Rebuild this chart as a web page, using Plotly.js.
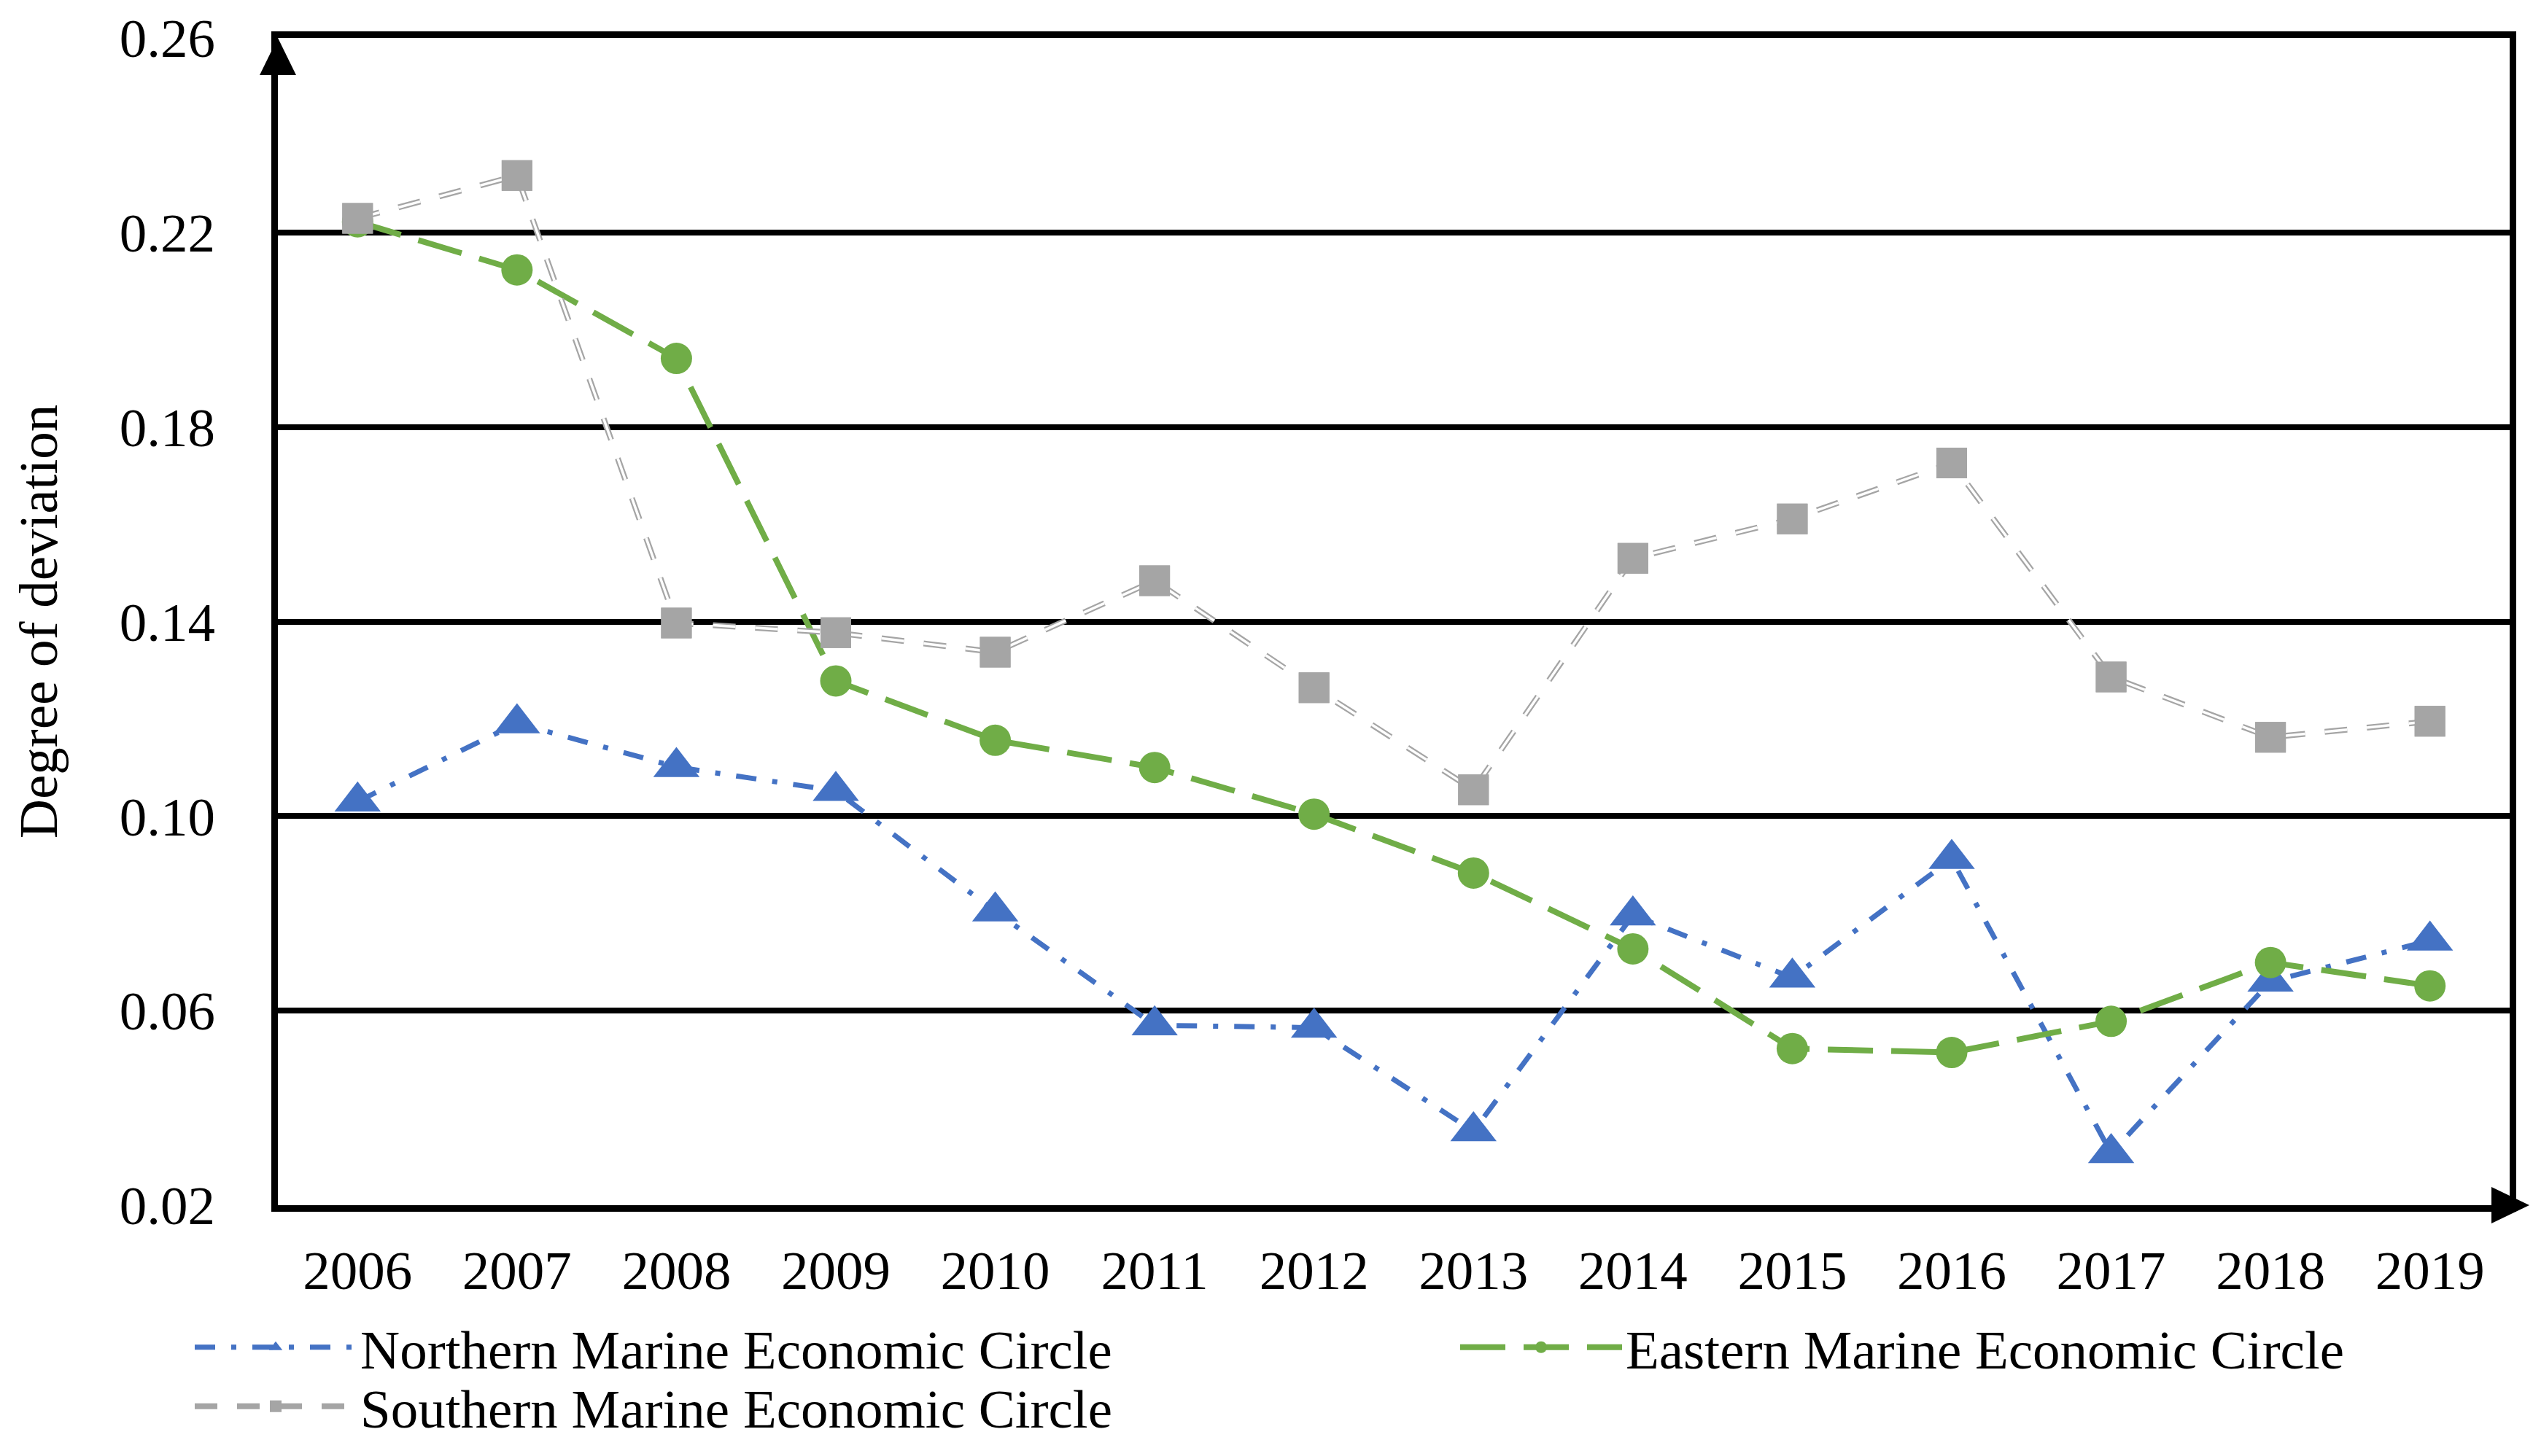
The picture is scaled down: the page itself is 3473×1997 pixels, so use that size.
<!DOCTYPE html>
<html>
<head>
<meta charset="utf-8">
<script src="https://cdn.plot.ly/plotly-3.0.1.min.js"></script>
<style>html,body{margin:0;padding:0;background:#fff;}#chart{width:3473px;height:1997px;}</style>
</head>
<body>
<div id="chart"></div>
<script>
// ---- data ----
const years = ['2006','2007','2008','2009','2010','2011','2012','2013','2014','2015','2016','2017','2018','2019'];
const northern = [0.1030, 0.1191, 0.1101, 0.1052, 0.0804, 0.0570, 0.0565, 0.0352, 0.0796, 0.0668, 0.0912, 0.0307, 0.0660, 0.0744];
const eastern  = [0.2222, 0.2123, 0.1941, 0.1278, 0.1156, 0.1100, 0.1004, 0.0883, 0.0727, 0.0522, 0.0514, 0.0578, 0.0699, 0.0651];
const southern = [0.2229, 0.2317, 0.1397, 0.1377, 0.1337, 0.1484, 0.1264, 0.1054, 0.1530, 0.1611, 0.1726, 0.1286, 0.1162, 0.1195];
const seriesNames = ['Northern Marine Economic Circle', 'Eastern Marine Economic Circle', 'Southern Marine Economic Circle'];
const yTicks = [0.02, 0.06, 0.10, 0.14, 0.18, 0.22, 0.26];
const yTitle = 'Degree of deviation';

// ---- style ----
const FONT = 'Liberation Serif, Times New Roman, serif';
const FS = 75;
const BLUE = '#4472C4', GREEN = '#70AD47', GRAY = '#A5A5A5';
const W = 3473, H = 1997;
const M = {l: 381, r: 32, t: 52, b: 344};
const PW = W - M.l - M.r, PH = H - M.t - M.b;

const traces = [
  {
    x: years, y: northern, name: seriesNames[0], type: 'scatter', mode: 'lines+markers',
    line: {color: BLUE, width: 7, dash: '28px,22px,7px,22px'},
    marker: {symbol: 'triangle-up', size: 55, color: BLUE},
    legend: 'legend'
  },
  {
    x: years, y: eastern, name: seriesNames[1], type: 'scatter', mode: 'lines+markers',
    line: {color: GREEN, width: 8, dash: '62px,25px'},
    marker: {symbol: 'circle', size: 43, color: GREEN},
    legend: 'legend2'
  },
  {
    x: years, y: southern, name: seriesNames[2], type: 'scatter', mode: 'lines+markers',
    line: {color: GRAY, width: 8, dash: '31px,27px'},
    marker: {symbol: 'square', size: 42, color: GRAY},
    legend: 'legend3'
  },
  {
    x: years, y: southern, name: seriesNames[2], type: 'scatter', mode: 'lines',
    line: {color: '#ffffff', width: 3.5, dash: '31px,27px'},
    showlegend: false, hoverinfo: 'skip'
  },
  {
    x: years, y: southern, name: seriesNames[2], type: 'scatter', mode: 'markers',
    marker: {symbol: 'square', size: 42, color: GRAY},
    showlegend: false, hoverinfo: 'skip'
  }
];

const legendBase = {
  orientation: 'h', xref: 'container', yref: 'container',
  xanchor: 'left', yanchor: 'middle', bgcolor: 'rgba(0,0,0,0)',
  font: {family: FONT, size: FS, color: '#000'}, itemwidth: 222
};

const layout = {
  width: W, height: H,
  margin: M,
  paper_bgcolor: '#fff', plot_bgcolor: '#fff',
  font: {family: FONT, size: FS, color: '#000'},
  showlegend: true,
  legend:  Object.assign({}, legendBase, {x: 262 / W, y: 1 - 1848 / H}),
  legend2: Object.assign({}, legendBase, {x: 1997 / W, y: 1 - 1848 / H}),
  legend3: Object.assign({}, legendBase, {x: 262 / W, y: 1 - 1929 / H}),
  xaxis: {
    type: 'category', categoryorder: 'array', categoryarray: years,
    range: [-0.5, years.length - 0.5],
    showgrid: false, zeroline: false,
    showline: true, linecolor: '#000', linewidth: 9, mirror: true,
    ticks: '', ticklabelstandoff: 16,
    tickfont: {family: FONT, size: FS, color: '#000'}
  },
  yaxis: {
    range: [0.02, 0.26], tickvals: yTicks, tickformat: '.2f',
    showgrid: true, gridcolor: '#000', gridwidth: 8,
    zeroline: false,
    showline: true, linecolor: '#000', linewidth: 9, mirror: true,
    ticks: '', ticklabelstandoff: 62,
    tickfont: {family: FONT, size: FS, color: '#000'},
    title: {text: yTitle, font: {family: FONT, size: FS, color: '#000'}, standoff: 64}
  },
  shapes: [
    // arrow head at top of the y axis
    {type: 'path', xref: 'paper', yref: 'paper', layer: 'above', line: {width: 0}, fillcolor: '#000',
     path: `M 0 1 L ${-25 / PW} ${1 - 51 / PH} L ${25 / PW} ${1 - 51 / PH} Z`},
    // arrow head at right end of the x axis
    {type: 'path', xref: 'paper', yref: 'paper', layer: 'above', line: {width: 0}, fillcolor: '#000',
     path: `M ${(3468 - M.l) / PW} 0 L ${(3416 - M.l) / PW} ${25 / PH} L ${(3416 - M.l) / PW} ${-25 / PH} Z`}
  ]
};

Plotly.newPlot('chart', traces, layout, {displayModeBar: false, staticPlot: true});
</script>
</body>
</html>
